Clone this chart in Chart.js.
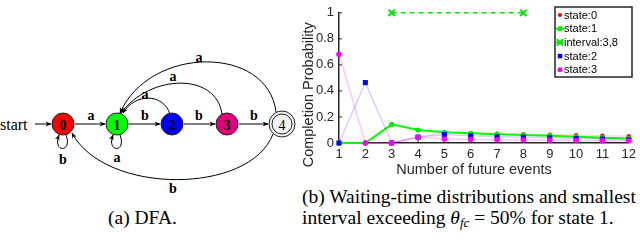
<!DOCTYPE html>
<html>
<head>
<meta charset="utf-8">
<script src="https://cdn.jsdelivr.net/npm/chart.js@4.4.0/dist/chart.umd.min.js"></script>
<style>
  html, body { margin: 0; padding: 0; background: #fff; }
  #page { position: relative; width: 640px; height: 250px; overflow: hidden; }
  #dfa { position: absolute; left: 0; top: 0; }
  #plot { position: absolute; left: 296px; top: 0; width: 344px; height: 185px; }
  .cap { position: absolute; font-family: "Liberation Serif", "Times New Roman", serif; font-size: 19.5px; line-height: 20px; white-space: nowrap; color: #000; }
  .cap sub { font-size: 13px; vertical-align: -3px; line-height: 0; }
  #dfa text { font-family: "Liberation Serif", "Times New Roman", serif; }
</style>
</head>
<body>
<div id="page">
  <svg id="dfa" width="296" height="250" viewBox="0 0 296 250">
    <defs>
      <marker id="ah" viewBox="0 0 10 10" refX="9" refY="5" markerWidth="6" markerHeight="6" orient="auto">
        <path d="M0,1 L10,5 L0,9 L3,5 z" fill="#000"/>
      </marker>
    </defs>
    <g fill="none" stroke="#000" stroke-width="1" marker-end="url(#ah)">
      <path d="M35,124 L51,124"/>
      <path d="M75,124 L105,124"/>
      <path d="M129,124 L160,124"/>
      <path d="M184,124 L215,124"/>
      <path d="M239,124 L268,124"/>
      <path d="M66,135 C73,153 52,153 59,135"/>
      <path d="M120,135 C127,153 106,153 113,135"/>
      <path d="M170,114 C163,93 135,93 123,113"/>
      <path d="M222,114 C216,72 150,74 121,113"/>
      <path d="M276,112 C268,45 150,45 120,113"/>
      <path d="M273,134 C250,195 105,195 72,133"/>
    </g>
    <g stroke="#222" stroke-width="1">
      <circle cx="63" cy="124" r="11" fill="#ff0000"/>
      <circle cx="117" cy="124" r="11" fill="#00ff00"/>
      <circle cx="172" cy="124" r="11" fill="#0000ff"/>
      <circle cx="227" cy="124" r="11" fill="#e2007f"/>
      <circle cx="282" cy="124" r="13" fill="#f2f2f2"/>
      <circle cx="282" cy="124" r="10" fill="#f2f2f2"/>
    </g>
    <g font-size="14" font-weight="bold" text-anchor="middle" dominant-baseline="central" fill="#000">
      <text x="63" y="125">0</text>
      <text x="117" y="125">1</text>
      <text x="172" y="125">2</text>
      <text x="227" y="125">3</text>
      <text x="282" y="125" font-weight="normal">4</text>
    </g>
    <g font-size="14" font-weight="bold" text-anchor="middle" dominant-baseline="central" fill="#000">
      <text x="91" y="115">a</text>
      <text x="145" y="115">b</text>
      <text x="199" y="115">b</text>
      <text x="254" y="115">b</text>
      <text x="63" y="159">b</text>
      <text x="117" y="157">a</text>
      <text x="145" y="94">a</text>
      <text x="173" y="76">a</text>
      <text x="199" y="57">a</text>
      <text x="173" y="188">b</text>
    </g>
    <text x="0" y="124" font-size="16" dominant-baseline="central">start</text>
  </svg>
  <div class="cap" style="left:108px; top:208px;">(a) DFA.</div>
  <div id="plot"><canvas id="chart"></canvas></div>
  <div class="cap" style="left:302px; top:187px;">(b) Waiting-time distributions and smallest</div>
  <div class="cap" style="left:302px; top:208px;">interval exceeding <i>θ</i><sub><i>fc</i></sub> = 50% for state 1.</div>
</div>
<script>
// number of future events
const steps = [1, 2, 3, 4, 5, 6, 7, 8, 9, 10, 11, 12];

// completion probability per start state
const state0 = [0, 0, 0, 0.045, 0.08, 0.076, 0.072, 0.068, 0.064, 0.06, 0.056, 0.052];
const state1 = [0, 0, 0.143, 0.1, 0.082, 0.075, 0.068, 0.062, 0.056, 0.048, 0.041, 0.035];
const state2 = [0, 0.464, 0, 0.045, 0.065, 0.055, 0.048, 0.045, 0.04, 0.034, 0.03, 0.025];
const state3 = [0.681, 0, 0, 0.046, 0.03, 0.027, 0.025, 0.023, 0.021, 0.019, 0.018, 0.017];

// smallest interval exceeding the threshold for state 1
const intervalX = [3, 8];
const intervalY = [1, 1];

const yTicks = [0, 0.2, 0.4, 0.6, 0.8, 1];
const legendNames = ['state:0', 'state:1', 'interval:3,8', 'state:2', 'state:3'];
const xTitle = 'Number of future events';
const yTitle = 'Completion Probability';

const axisColor = '#262626';

function toPoints(xs, ys) {
  return xs.map((x, i) => ({ x: x, y: ys[i] }));
}

// MATLAB style ticks pointing into the axes
const innerTicks = {
  id: 'innerTicks',
  beforeDatasetsDraw(chart) {
    const { ctx, chartArea, scales } = chart;
    ctx.save();
    ctx.strokeStyle = axisColor;
    ctx.lineWidth = 1;
    ctx.beginPath();
    steps.forEach(v => {
      const px = scales.x.getPixelForValue(v);
      ctx.moveTo(px, chartArea.bottom);
      ctx.lineTo(px, chartArea.bottom - 3);
    });
    yTicks.forEach(v => {
      const py = scales.y.getPixelForValue(v);
      ctx.moveTo(chartArea.left, py);
      ctx.lineTo(chartArea.left + 3, py);
    });
    ctx.stroke();
    ctx.restore();
  }
};

// axis titles, placed a bit off-centre like the original figure
const axisTitles = {
  id: 'axisTitles',
  afterDraw(chart) {
    const { ctx, chartArea } = chart;
    ctx.save();
    ctx.fillStyle = axisColor;
    ctx.font = '14.5px "Liberation Sans", Arial, sans-serif';
    ctx.textAlign = 'center';
    ctx.textBaseline = 'middle';
    ctx.fillText(xTitle, chartArea.left + 135, chartArea.bottom + 27);
    ctx.translate(chartArea.left - 30, chartArea.top + 82);
    ctx.rotate(-Math.PI / 2);
    ctx.fillText(yTitle, 0, 0);
    ctx.restore();
  }
};

function drawMarker(ctx, style, x, y, r, color) {
  ctx.fillStyle = color;
  ctx.strokeStyle = color;
  ctx.beginPath();
  if (style === 'rect') {
    const s = r * Math.SQRT1_2;
    ctx.rect(x - s, y - s, 2 * s, 2 * s);
    ctx.fill();
  } else if (style === 'crossRot') {
    ctx.lineWidth = 2;
    const s = r * Math.SQRT1_2;
    ctx.moveTo(x - s, y - s); ctx.lineTo(x + s, y + s);
    ctx.moveTo(x + s, y - s); ctx.lineTo(x - s, y + s);
    ctx.stroke();
  } else {
    ctx.arc(x, y, r, 0, Math.PI * 2);
    ctx.fill();
  }
}

// boxed legend inside the top right corner
const boxLegend = {
  id: 'boxLegend',
  afterDraw(chart) {
    const ctx = chart.ctx;
    const bx = 259, by = 7, bw = 77, bh = 70;
    ctx.save();
    ctx.fillStyle = '#fff';
    ctx.fillRect(bx, by, bw, bh);
    ctx.strokeStyle = axisColor;
    ctx.lineWidth = 1.5;
    ctx.strokeRect(bx, by, bw, bh);
    ctx.font = '11px "Liberation Sans", Arial, sans-serif';
    ctx.textBaseline = 'middle';
    legendNames.forEach((name, i) => {
      const ds = chart.data.datasets.find(d => d.label === name);
      const y = by + 8 + i * 13.7;
      if (ds.legendLine) {
        ctx.strokeStyle = ds.borderColor;
        ctx.lineWidth = ds.borderWidth;
        ctx.beginPath();
        ctx.moveTo(bx + 1, y);
        ctx.lineTo(bx + 9, y);
        ctx.stroke();
      }
      drawMarker(ctx, ds.pointStyle, bx + 5, y, ds.legendRadius, ds.pointBorderColor);
      ctx.fillStyle = '#000';
      ctx.fillText(name, bx + 9, y + 0.5);
    });
    ctx.restore();
  }
};

Chart.defaults.font.family = '"Liberation Sans", Arial, sans-serif';
Chart.defaults.font.size = 13;
Chart.defaults.color = axisColor;

new Chart(document.getElementById('chart'), {
  type: 'line',
  data: {
    datasets: [
      {
        label: 'state:3',
        data: toPoints(steps, state3),
        borderColor: 'rgba(255, 0, 255, 0.22)',
        borderWidth: 1.5,
        pointStyle: 'circle',
        pointRadius: 2.8,
        pointBackgroundColor: '#ff00ff',
        pointBorderColor: '#ff00ff',
        pointBorderWidth: 0,
        legendRadius: 2.5,
        clip: false
      },
      {
        label: 'state:2',
        data: toPoints(steps, state2),
        borderColor: 'rgba(0, 0, 255, 0.18)',
        borderWidth: 1.5,
        pointStyle: 'rect',
        pointRadius: 3.6,
        pointBackgroundColor: '#0000ff',
        pointBorderColor: '#0000ff',
        pointBorderWidth: 0,
        legendRadius: 3.2,
        clip: false
      },
      {
        label: 'interval:3,8',
        data: toPoints(intervalX, intervalY),
        borderColor: '#00e600',
        borderWidth: 1.5,
        borderDash: [5, 4],
        pointStyle: 'crossRot',
        pointRadius: 4.5,
        pointBorderColor: '#00e600',
        pointBorderWidth: 2,
        legendLine: true,
        legendRadius: 4.5,
        clip: false
      },
      {
        label: 'state:1',
        data: toPoints(steps, state1),
        borderColor: '#00ff00',
        borderWidth: 2,
        pointStyle: 'circle',
        pointRadius: 2.6,
        pointBackgroundColor: '#00ee00',
        pointBorderColor: '#00ee00',
        pointBorderWidth: 0,
        legendLine: true,
        legendRadius: 2.6,
        clip: false
      },
      {
        label: 'state:0',
        data: toPoints(steps, state0),
        borderColor: 'rgba(255, 0, 0, 0.16)',
        borderWidth: 1.5,
        pointStyle: 'circle',
        pointRadius: 2.2,
        pointBackgroundColor: '#ff0000',
        pointBorderColor: '#ff0000',
        pointBorderWidth: 0,
        legendRadius: 2,
        clip: false
      }
    ]
  },
  options: {
    responsive: true,
    maintainAspectRatio: false,
    animation: false,
    layout: { padding: { top: 5, right: 7, left: 0, bottom: 0 } },
    plugins: {
      legend: { display: false },
      tooltip: { enabled: false }
    },
    scales: {
      x: {
        type: 'linear',
        min: 1,
        max: 12,
        afterBuildTicks: s => { s.ticks = steps.map(v => ({ value: v })); },
        afterFit: s => { s.height = 42; },
        ticks: { padding: 4, maxRotation: 0, callback: v => String(v) },
        grid: { drawOnChartArea: false, drawTicks: false },
        border: { color: axisColor, width: 1.5 }
      },
      y: {
        min: 0,
        max: 1,
        afterBuildTicks: s => { s.ticks = yTicks.map(v => ({ value: v })); },
        afterFit: s => { s.width = 43; },
        ticks: { padding: 5, callback: v => String(v) },
        grid: { drawOnChartArea: false, drawTicks: false },
        border: { color: axisColor, width: 1.5 }
      }
    }
  },
  plugins: [innerTicks, axisTitles, boxLegend]
});
</script>
</body>
</html>
